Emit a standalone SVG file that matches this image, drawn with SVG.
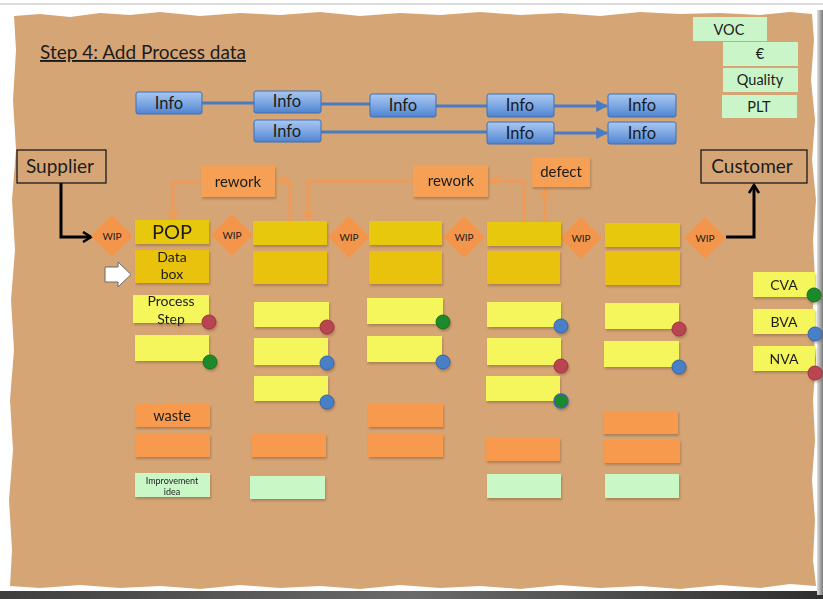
<svg xmlns="http://www.w3.org/2000/svg" width="823" height="599" viewBox="0 0 823 599">
  <defs>
    <style>
      text { font-family: Lato, "Open Sans", "Liberation Sans", sans-serif; fill: #1c1c1c; text-anchor: middle; }
      .info rect { fill: url(#gBlue); stroke: #3f6fb5; stroke-width: 1; }
      .info text { font-size: 16.5px; }
      .voc rect { fill: #c9f5c8; }
      .voc text { font-size: 14.5px; }
      .ext rect { fill: none; stroke: #1a1a1a; stroke-width: 1.3; }
      .ext text { font-size: 19px; }
      .wip polygon { fill: #f4954c; }
      .wip text { font-size: 10px; }
      .pop { fill: #e8c80e; }
      .data { fill: #e8c210; }
      .step { fill: #f5f55c; }
      .waste { fill: #f79a4e; }
      .idea { fill: #c9f8c6; }
      .tag { fill: #f5a055; }
      .note { filter: url(#shadow); }
      .dot-r { fill: #b94552; stroke: #a03040; stroke-width: 1; }
      .dot-g { fill: #1e8a2a; stroke: #1a6d22; stroke-width: 1; }
      .dot-b { fill: #4a7fc6; stroke: #3565a8; stroke-width: 1; }
      .blue { stroke: #4a7bc2; stroke-width: 3; fill: none; }
      .orange { stroke: #f29a52; stroke-width: 2.5; fill: none; }
      .black { stroke: #000; stroke-width: 3; fill: none; }
    </style>
    <linearGradient id="gBlue" x1="0" y1="0" x2="0" y2="1">
      <stop offset="0" stop-color="#a9c7f0"/>
      <stop offset="0.5" stop-color="#7ea8e4"/>
      <stop offset="1" stop-color="#4f83cf"/>
    </linearGradient>
    <linearGradient id="gBottom" x1="0" y1="0" x2="1" y2="0">
      <stop offset="0" stop-color="#3e3e3e"/>
      <stop offset="0.5" stop-color="#6a6a6a"/>
      <stop offset="1" stop-color="#2e2e2e"/>
    </linearGradient>
    <linearGradient id="gRight" x1="0" y1="0" x2="1" y2="0">
      <stop offset="0" stop-color="#e0e0e0"/>
      <stop offset="1" stop-color="#7a7a7a"/>
    </linearGradient>
    <filter id="shadow" x="-10%" y="-10%" width="125%" height="140%">
      <feDropShadow dx="1" dy="2" stdDeviation="1" flood-color="#5a3a1a" flood-opacity="0.35"/>
    </filter>
    <marker id="aBlue" viewBox="0 0 10 10" refX="9" refY="5" markerWidth="4" markerHeight="4" orient="auto" markerUnits="strokeWidth">
      <path d="M0,0 L10,5 L0,10 Z" fill="#4a7bc2"/>
    </marker>
    <marker id="aOrange" viewBox="0 0 12 12" refX="10" refY="6" markerWidth="5" markerHeight="5" orient="auto" markerUnits="strokeWidth">
      <path d="M2,1 L10,6 L2,11" fill="none" stroke="#f29a52" stroke-width="2"/>
    </marker>
    <marker id="aBlack" viewBox="0 0 12 12" refX="10" refY="6" markerWidth="4" markerHeight="4" orient="auto" markerUnits="strokeWidth">
      <path d="M2,1 L10,6 L2,11" fill="none" stroke="#000" stroke-width="2.5"/>
    </marker>
  </defs>

  <!-- page and torn cardboard sheet -->
  <rect width="823" height="599" fill="#ffffff"/>
  <line x1="0" y1="4" x2="823" y2="4" stroke="#cfcfcf" stroke-width="1.5"/>
  <rect x="0" y="591" width="823" height="8" fill="url(#gBottom)"/>
  <rect x="817" y="10" width="6" height="585" fill="url(#gRight)"/>
  <path fill="#d6a576" d="M14,16 L40,14 L70,17 L100,13 L130,15 L160,12 L200,16 L240,13 L280,15 L320,12 L360,16 L400,13 L440,15 L480,12 L520,15 L560,13 L600,16 L640,12 L680,14 L720,13 L760,15 L790,12 L812,14 L814,40 L811,80 L815,120 L812,160 L816,200 L813,240 L815,280 L812,320 L816,360 L813,400 L815,440 L812,480 L815,520 L813,560 L816,586 L790,584 L760,588 L720,585 L680,589 L640,586 L600,588 L560,585 L520,589 L480,586 L440,588 L400,585 L360,589 L320,586 L280,588 L240,585 L200,589 L160,586 L120,588 L80,585 L40,588 L10,586 L12,550 L9,500 L13,450 L10,400 L14,350 L11,300 L15,250 L12,200 L16,150 L13,100 L16,50 Z"/>

  <!-- title -->
  <g id="title">
    <text x="40" y="59" style="text-anchor:start;font-size:19px;text-decoration:underline">Step 4: Add Process data</text>
  </g>

  <!-- connectors -->
  <g id="connectors">
    <path class="blue" d="M202,103 H254"/>
    <path class="blue" d="M321,104 H370"/>
    <path class="blue" d="M436,106 H487"/>
    <path class="blue" d="M554,106 H607" marker-end="url(#aBlue)"/>
    <path class="blue" d="M321,132 H487"/>
    <path class="blue" d="M554,133 H607" marker-end="url(#aBlue)"/>

    <path class="orange" d="M290,221 V181 H278" marker-end="url(#aOrange)"/>
    <path class="orange" d="M200,182 H173 V219" marker-end="url(#aOrange)"/>
    <path class="orange" d="M524,221 V181 H490" marker-end="url(#aOrange)"/>
    <path class="orange" d="M413,181 H308 V219" marker-end="url(#aOrange)"/>
    <path class="orange" d="M545,221 V189" marker-end="url(#aOrange)"/>

    <path class="black" d="M61,183 V237 H91" marker-end="url(#aBlack)"/>
    <path class="black" d="M726,237 H754 V185" marker-end="url(#aBlack)"/>
  </g>

  <!-- information flow -->
  <g id="info1" class="info"><rect x="136" y="92" width="66" height="22" rx="2"/><text x="169" y="109">Info</text></g>
  <g id="info2" class="info"><rect x="254" y="91" width="67" height="22" rx="2"/><text x="287" y="107">Info</text></g>
  <g id="info3" class="info"><rect x="370" y="94" width="66" height="23" rx="2"/><text x="403" y="111">Info</text></g>
  <g id="info4" class="info"><rect x="487" y="94" width="67" height="23" rx="2"/><text x="520" y="111">Info</text></g>
  <g id="info5" class="info"><rect x="608" y="94" width="68" height="23" rx="2"/><text x="642" y="111">Info</text></g>
  <g id="info6" class="info"><rect x="254" y="120" width="67" height="22" rx="2"/><text x="287" y="137">Info</text></g>
  <g id="info7" class="info"><rect x="487" y="122" width="67" height="22" rx="2"/><text x="520" y="139">Info</text></g>
  <g id="info8" class="info"><rect x="608" y="122" width="68" height="22" rx="2"/><text x="642" y="139">Info</text></g>

  <!-- customer requirement cards -->
  <g id="voc" class="voc"><rect x="693" y="17" width="74" height="24"/><text x="729" y="35">VOC</text></g>
  <g id="euro" class="voc"><rect x="723" y="42" width="75" height="24"/><text x="760" y="59">€</text></g>
  <g id="quality" class="voc"><rect x="723" y="68" width="75" height="24"/><text x="760" y="85">Quality</text></g>
  <g id="plt" class="voc"><rect x="722" y="95" width="75" height="23"/><text x="759" y="112">PLT</text></g>

  <!-- supplier and customer -->
  <g id="supplier" class="ext"><rect x="17" y="150" width="89" height="33"/><text x="60" y="173">Supplier</text></g>
  <g id="customer" class="ext"><rect x="701" y="150" width="106" height="33"/><text x="752" y="173">Customer</text></g>

  <!-- rework / defect tags -->
  <g id="rework1" class="note"><rect class="tag" x="201" y="166" width="74" height="31"/><text x="238" y="187" style="font-size:15px">rework</text></g>
  <g id="rework2" class="note"><rect class="tag" x="413" y="165" width="75" height="32"/><text x="451" y="186" style="font-size:15px">rework</text></g>
  <g id="defect" class="note"><rect class="tag" x="532" y="157" width="58" height="30"/><text x="561" y="177" style="font-size:15px">defect</text></g>

  <!-- inventory triangles -->
  <g id="wip1" class="wip"><polygon points="112,215 133,236 112,257 91,236"/><text x="112" y="240">WIP</text></g>
  <g id="wip2" class="wip"><polygon points="232,214 253,235 232,256 211,235"/><text x="232" y="239">WIP</text></g>
  <g id="wip3" class="wip"><polygon points="349,216 370,237 349,258 328,237"/><text x="349" y="241">WIP</text></g>
  <g id="wip4" class="wip"><polygon points="464,216 485,237 464,258 443,237"/><text x="464" y="241">WIP</text></g>
  <g id="wip5" class="wip"><polygon points="581,217 602,238 581,259 560,238"/><text x="581" y="242">WIP</text></g>
  <g id="wip6" class="wip"><polygon points="705,217 726,238 705,259 684,238"/><text x="705" y="242">WIP</text></g>

  <!-- pointer arrow -->
  <g id="pointer">
    <path d="M105,267 H118 V262 L131,274.5 L118,287 V282 H105 Z" fill="#ffffff" stroke="#6a6a6a" stroke-width="1"/>
  </g>

  <!-- process column 1 -->
  <g id="pop1" class="note"><rect class="pop" x="135" y="220" width="74" height="24"/><text x="172" y="239" style="font-size:20px">POP</text></g>
  <g id="data1" class="note"><rect class="data" x="135" y="250" width="74" height="33"/><text x="172" y="262" style="font-size:14px">Data</text><text x="172" y="279" style="font-size:14px">box</text></g>
  <g id="step1a" class="note"><rect class="step" x="133" y="295" width="76" height="28"/><text x="171" y="306" style="font-size:14px">Process</text><text x="171" y="324" style="font-size:14px">Step</text><circle class="dot-r" cx="209" cy="322" r="7"/></g>
  <g id="step1b" class="note"><rect class="step" x="135" y="335" width="74" height="26"/><circle class="dot-g" cx="210" cy="362" r="7"/></g>
  <g id="waste1a" class="note"><rect class="waste" x="135" y="404" width="75" height="23"/><text x="172" y="421" style="font-size:14.5px">waste</text></g>
  <g id="waste1b" class="note"><rect class="waste" x="135" y="434" width="75" height="23"/></g>
  <g id="idea1" class="note"><rect class="idea" x="135" y="473" width="75" height="24"/><text x="172" y="484" style="font-size:9px">Improvement</text><text x="172" y="495" style="font-size:9px">idea</text></g>

  <!-- process column 2 -->
  <g id="pop2" class="note"><rect class="pop" x="253" y="221" width="74" height="24"/></g>
  <g id="data2" class="note"><rect class="data" x="253" y="251" width="74" height="33"/></g>
  <g id="step2a" class="note"><rect class="step" x="254" y="302" width="75" height="25"/><circle class="dot-r" cx="327" cy="327" r="7"/></g>
  <g id="step2b" class="note"><rect class="step" x="254" y="338" width="74" height="27"/><circle class="dot-b" cx="327" cy="363" r="7"/></g>
  <g id="step2c" class="note"><rect class="step" x="254" y="376" width="74" height="25"/><circle class="dot-b" cx="327" cy="402" r="7"/></g>
  <g id="waste2" class="note"><rect class="waste" x="251" y="434" width="75" height="23"/></g>
  <g id="idea2" class="note"><rect class="idea" x="250" y="476" width="75" height="23"/></g>

  <!-- process column 3 -->
  <g id="pop3" class="note"><rect class="pop" x="369" y="221" width="73" height="24"/></g>
  <g id="data3" class="note"><rect class="data" x="369" y="251" width="73" height="33"/></g>
  <g id="step3a" class="note"><rect class="step" x="367" y="298" width="76" height="26"/><circle class="dot-g" cx="443" cy="322" r="7"/></g>
  <g id="step3b" class="note"><rect class="step" x="367" y="336" width="75" height="26"/><circle class="dot-b" cx="443" cy="362" r="7"/></g>
  <g id="waste3a" class="note"><rect class="waste" x="368" y="404" width="75" height="23"/></g>
  <g id="waste3b" class="note"><rect class="waste" x="368" y="434" width="75" height="23"/></g>

  <!-- process column 4 -->
  <g id="pop4" class="note"><rect class="pop" x="487" y="222" width="74" height="24"/></g>
  <g id="data4" class="note"><rect class="data" x="487" y="251" width="73" height="33"/></g>
  <g id="step4a" class="note"><rect class="step" x="487" y="302" width="74" height="25"/><circle class="dot-b" cx="561" cy="326" r="7"/></g>
  <g id="step4b" class="note"><rect class="step" x="487" y="338" width="74" height="27"/><circle class="dot-r" cx="561" cy="366" r="7"/></g>
  <g id="step4c" class="note"><rect class="step" x="486" y="376" width="74" height="25"/><circle class="dot-g" cx="561" cy="401" r="7" style="stroke:#3565a8;stroke-width:1.5"/></g>
  <g id="waste4" class="note"><rect class="waste" x="486" y="438" width="74" height="23"/></g>
  <g id="idea4" class="note"><rect class="idea" x="487" y="474" width="74" height="24"/></g>

  <!-- process column 5 -->
  <g id="pop5" class="note"><rect class="pop" x="605" y="223" width="75" height="24"/></g>
  <g id="data5" class="note"><rect class="data" x="605" y="251" width="75" height="34"/></g>
  <g id="step5a" class="note"><rect class="step" x="605" y="303" width="74" height="26"/><circle class="dot-r" cx="679" cy="329" r="7"/></g>
  <g id="step5b" class="note"><rect class="step" x="604" y="341" width="75" height="26"/><circle class="dot-b" cx="679" cy="367" r="7"/></g>
  <g id="waste5a" class="note"><rect class="waste" x="603" y="411" width="75" height="23"/></g>
  <g id="waste5b" class="note"><rect class="waste" x="604" y="440" width="76" height="23"/></g>
  <g id="idea5" class="note"><rect class="idea" x="605" y="474" width="74" height="24"/></g>

  <!-- value legend -->
  <g id="cva" class="note"><rect class="step" x="753" y="272" width="62" height="25"/><text x="784" y="290" style="font-size:14px">CVA</text><circle class="dot-g" cx="814" cy="295" r="7"/></g>
  <g id="bva" class="note"><rect class="step" x="753" y="309" width="62" height="25"/><text x="784" y="327" style="font-size:14px">BVA</text><circle class="dot-b" cx="815" cy="334" r="7"/></g>
  <g id="nva" class="note"><rect class="step" x="753" y="346" width="62" height="25"/><text x="784" y="364" style="font-size:14px">NVA</text><circle class="dot-r" cx="815" cy="373" r="7"/></g>
</svg>
